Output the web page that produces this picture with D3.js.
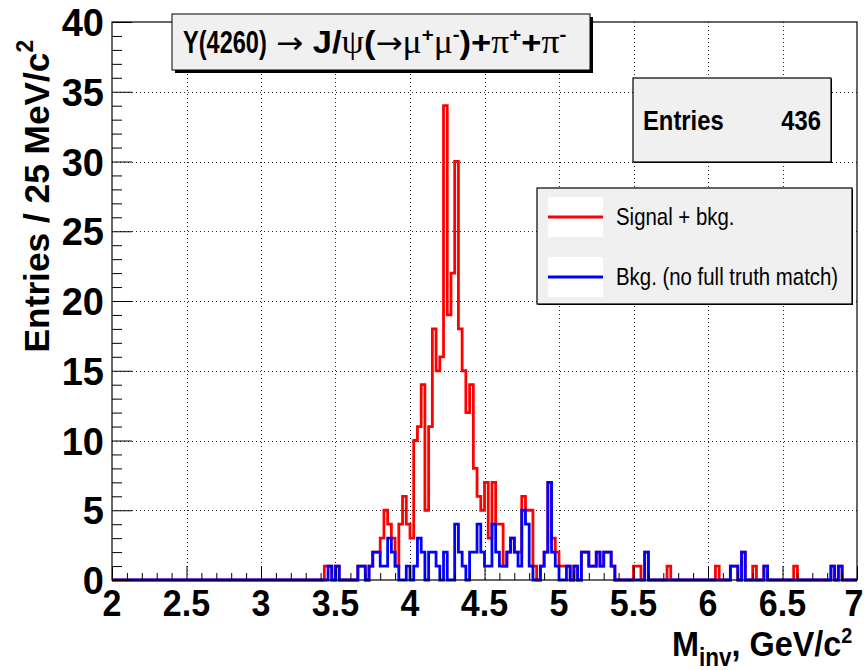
<!DOCTYPE html>
<html>
<head>
<meta charset="utf-8">
<script src="https://cdn.jsdelivr.net/npm/d3@7"></script>
<style>
  body { margin: 0; background: #fff; }
  svg { display: block; }
</style>
</head>
<body>
<svg id="chart" width="864" height="670"></svg>
<script>
// Invariant-mass histogram, 200 bins of 25 MeV between 2 and 7 GeV/c^2
const xMin = 2, xMax = 7, binWidth = 0.025;

// Signal + background (all selected candidates), counts per bin
const signalPlusBkg = [
  0,0,0,0,0,0,0,0,0,0, 0,0,0,0,0,0,0,0,0,0,
  0,0,0,0,0,0,0,0,0,0, 0,0,0,0,0,0,0,0,0,0,
  0,0,0,0,0,0,0,0,0,0, 0,0,0,0,0,0,0,1,1,0,
  1,0,0,0,0,0,1,1,0,1, 2,2,3,5,4,3,1,4,6,4,
  3,10,11,14,5,11,18,15,16,34, 19,22,30,18,15,12,14,8,6,5,
  7,3,7,4,4,1,2,3,2,2, 6,5,5,1,0,1,2,7,3,2,
  1,1,1,0,1,0,2,2,1,1, 2,1,2,2,1,0,0,0,0,0,
  1,1,0,2,0,0,0,0,0,1, 0,0,0,0,0,0,0,0,0,0,
  0,0,1,0,0,0,1,1,0,2, 0,0,1,0,0,1,0,0,0,0,
  0,0,0,1,0,0,0,0,0,0, 0,0,0,1,0,1,0,0,0,0
];

// Background only (no full truth match), counts per bin
const bkgOnly = [
  0,0,0,0,0,0,0,0,0,0, 0,0,0,0,0,0,0,0,0,0,
  0,0,0,0,0,0,0,0,0,0, 0,0,0,0,0,0,0,0,0,0,
  0,0,0,0,0,0,0,0,0,0, 0,0,0,0,0,0,0,0,1,0,
  1,0,0,0,0,0,1,1,0,1, 2,2,1,1,3,2,1,0,0,1,
  0,1,3,2,0,2,2,1,0,2, 0,0,4,2,1,0,2,2,4,2,
  1,1,4,2,1,1,2,3,2,1, 5,4,1,0,0,1,2,7,2,1,
  0,0,1,0,1,0,2,2,1,1, 2,1,2,2,1,0,0,0,0,0,
  0,0,0,2,0,0,0,0,0,0, 0,0,0,0,0,0,0,0,0,0,
  0,0,0,0,0,0,1,1,0,2, 0,0,0,0,0,1,0,0,0,0,
  0,0,0,0,0,0,0,0,0,0, 0,0,0,1,0,1,0,0,0,0
];

const xTickValues = [2, 2.5, 3, 3.5, 4, 4.5, 5, 5.5, 6, 6.5, 7];
const xTickLabels = ["2", "2.5", "3", "3.5", "4", "4.5", "5", "5.5", "6", "6.5", "7"];
const yTickValues = [0, 5, 10, 15, 20, 25, 30, 35, 40];
const yTickLabels = ["0", "5", "10", "15", "20", "25", "30", "35", "40"];

const legendLabels = ["Signal + bkg.", "Bkg. (no full truth match)"];
const seriesColors = ["#ff0000", "#0000ff"];
const entriesCount = 436;

const svg = d3.select("#chart");
const frame = { left: 112, right: 857, top: 22, bottom: 580 };
const x = d3.scaleLinear().domain([xMin, xMax]).range([frame.left, frame.right]);
const y = d3.scaleLinear().domain([0, 40]).range([frame.bottom, frame.top]);

const FONT = "'Liberation Sans', Arial, Helvetica, sans-serif";
const SYMBOL_FONT = "'Liberation Serif', 'DejaVu Serif', serif";
const ARROW_FONT = "'DejaVu Sans', sans-serif";
const SX = 0.85; // glyph width factor for the condensed lettering

// text helper: horizontally condensed glyphs around an anchor point
function putText(parent, px, py, str, opt) {
  const t = parent.append("text")
    .attr("transform", `translate(${px},${py}) scale(${opt.sx ?? SX},1)`)
    .attr("font-family", FONT)
    .attr("font-size", opt.size)
    .attr("font-weight", opt.weight || "bold")
    .attr("text-anchor", opt.anchor || "start")
    .attr("fill", "#000");
  t.text(str);
  return t;
}

// dotted grid at the major divisions
const grid = svg.append("g").attr("stroke", "#222").attr("stroke-width", 1)
  .attr("stroke-dasharray", "1,3");
grid.selectAll("line.gx").data(xTickValues.slice(1, -1)).join("line")
  .attr("x1", d => Math.round(x(d)) + 0.5).attr("x2", d => Math.round(x(d)) + 0.5)
  .attr("y1", frame.top).attr("y2", frame.bottom);
grid.selectAll("line.gy").data(yTickValues.slice(1, -1)).join("line")
  .attr("y1", d => Math.round(y(d)) + 0.5).attr("y2", d => Math.round(y(d)) + 0.5)
  .attr("x1", frame.left).attr("x2", frame.right);

// step outline of a histogram
function stepPath(counts) {
  const p = d3.path();
  p.moveTo(x(xMin), y(counts[0]));
  counts.forEach((c, i) => {
    const x0 = x(xMin + i * binWidth), x1 = x(xMin + (i + 1) * binWidth);
    p.lineTo(x0, y(c));
    p.lineTo(x1, y(c));
  });
  return p.toString();
}

const hist = svg.append("g").attr("fill", "none").attr("stroke-linejoin", "miter");
[signalPlusBkg, bkgOnly].forEach((counts, k) => {
  hist.append("path").attr("d", stepPath(counts))
    .attr("stroke", seriesColors[k]).attr("stroke-width", 2.8);
});

// axes: ticks drawn inward, labels placed separately
const xMinor = d3.range(20, 71).map(v => v / 10).filter(v => !xTickValues.includes(v));
const yMinor = d3.range(0, 41).filter(v => !yTickValues.includes(v));

function stripAxis(g) { g.select(".domain").remove(); g.selectAll("text").remove(); g.selectAll("line").attr("stroke", "#000"); }

svg.append("g").attr("transform", `translate(0,${frame.bottom})`)
  .call(d3.axisBottom(x).tickValues(xTickValues).tickSize(-14).tickFormat(""))
  .call(stripAxis);
svg.append("g").attr("transform", `translate(0,${frame.bottom})`)
  .call(d3.axisBottom(x).tickValues(xMinor).tickSize(-7).tickFormat(""))
  .call(stripAxis);
svg.append("g").attr("transform", `translate(${frame.left},0)`)
  .call(d3.axisLeft(y).tickValues(yTickValues).tickSize(-20).tickFormat(""))
  .call(stripAxis);
svg.append("g").attr("transform", `translate(${frame.left},0)`)
  .call(d3.axisLeft(y).tickValues(yMinor).tickSize(-10).tickFormat(""))
  .call(stripAxis);

// frame
svg.append("rect")
  .attr("x", frame.left).attr("y", frame.top)
  .attr("width", frame.right - frame.left).attr("height", frame.bottom - frame.top)
  .attr("fill", "none").attr("stroke", "#000").attr("stroke-width", 1.2);

// tick labels
const labels = svg.append("g");
xTickValues.forEach((v, i) => putText(labels, Math.min(x(v), 854), 616, xTickLabels[i], { size: 37, anchor: "middle", sx: 0.92 }));
yTickValues.forEach((v, i) => putText(labels, 104, y(v) + 14, yTickLabels[i], { size: 38, anchor: "end", sx: 1.0 }));

// axis titles
const xt = svg.append("text")
  .attr("transform", `translate(672,656) scale(0.9,1)`)
  .attr("font-family", FONT).attr("font-weight", "bold").attr("font-size", 36)
  .attr("text-anchor", "start");
xt.append("tspan").text("M");
xt.append("tspan").attr("font-size", 25).attr("dy", 10).text("inv");
xt.append("tspan").attr("dy", -10).text(", GeV/c");
xt.append("tspan").attr("font-size", 22).attr("dy", -13).text("2");

const yt = svg.append("text")
  .attr("transform", `translate(49,40) rotate(-90) scale(0.98,1)`)
  .attr("font-family", FONT).attr("font-weight", "bold").attr("font-size", 36)
  .attr("text-anchor", "end");
yt.append("tspan").text("Entries / 25 MeV/c");
yt.append("tspan").attr("font-size", 23).attr("dy", -16).text("2");

// title box with shadow
const tb = { x: 172, y: 14, w: 418, h: 56 };
svg.append("rect").attr("x", tb.x + 3).attr("y", tb.y + 3).attr("width", tb.w).attr("height", tb.h).attr("fill", "#000");
svg.append("rect").attr("x", tb.x).attr("y", tb.y).attr("width", tb.w).attr("height", tb.h)
  .attr("fill", "#f0f0f0").attr("stroke", "#000").attr("stroke-width", 1);

// title: resonance name, then the decay chain
putText(svg, 183, 53, "Y(4260)", { size: 31, sx: 0.76 });
const tt = svg.append("text")
  .attr("transform", `translate(276,53) scale(1.08,1)`)
  .attr("font-family", FONT).attr("font-size", 32).attr("font-weight", "bold");
// [text, font kind, superscript shift]
const titleParts = [
  ["\u2192", "a", 0], ["\u00a0J/", "b", 0], ["\u03c8", "s", 0],
  ["(", "b", 0], ["\u2192", "a", 0], ["\u03bc", "s", 0], ["+", "b", 1], ["\u03bc", "s", -1],
  ["-", "b", 1], [")+", "b", -1], ["\u03c0", "s", 0], ["+", "b", 1], ["+", "b", -1],
  ["\u03c0", "s", 0], ["-", "b", 1]
];
titleParts.forEach(([s, kind, sup]) => {
  const sp = tt.append("tspan").text(s);
  if (kind === "a") sp.attr("font-family", ARROW_FONT).attr("font-weight", "normal").attr("font-size", 30);
  if (kind === "s") sp.attr("font-family", SYMBOL_FONT).attr("font-weight", "normal").attr("font-size", 33);
  if (sup === 1) sp.attr("dy", -12).attr("font-size", 19);
  if (sup === -1) sp.attr("dy", 12);
});

// statistics box
const sb = { x: 633, y: 78, w: 198, h: 84 };
svg.append("rect").attr("x", sb.x + 1).attr("y", sb.y + 1).attr("width", sb.w).attr("height", sb.h).attr("fill", "#000");
svg.append("rect").attr("x", sb.x).attr("y", sb.y).attr("width", sb.w).attr("height", sb.h)
  .attr("fill", "#f0f0f0").attr("stroke", "#000").attr("stroke-width", 1.2);
putText(svg, 643, 130, "Entries", { size: 28 });
putText(svg, 821, 130, String(entriesCount), { size: 28, anchor: "end" });

// legend
const lb = { x: 537, y: 188, w: 315, h: 116 };
svg.append("rect").attr("x", lb.x + 1).attr("y", lb.y + 1).attr("width", lb.w).attr("height", lb.h).attr("fill", "#000");
svg.append("rect").attr("x", lb.x).attr("y", lb.y).attr("width", lb.w).attr("height", lb.h)
  .attr("fill", "#f0f0f0").attr("stroke", "#000").attr("stroke-width", 1.2);
legendLabels.forEach((lab, i) => {
  const cy = 217 + i * 60;
  svg.append("rect").attr("x", 548).attr("y", cy - 20).attr("width", 55).attr("height", 40).attr("fill", "#fff");
  svg.append("line").attr("x1", 548).attr("x2", 603).attr("y1", cy).attr("y2", cy)
    .attr("stroke", seriesColors[i]).attr("stroke-width", 2.8);
  putText(svg, 616, cy + 8, lab, { size: 24, weight: "normal" });
});
</script>
</body>
</html>
